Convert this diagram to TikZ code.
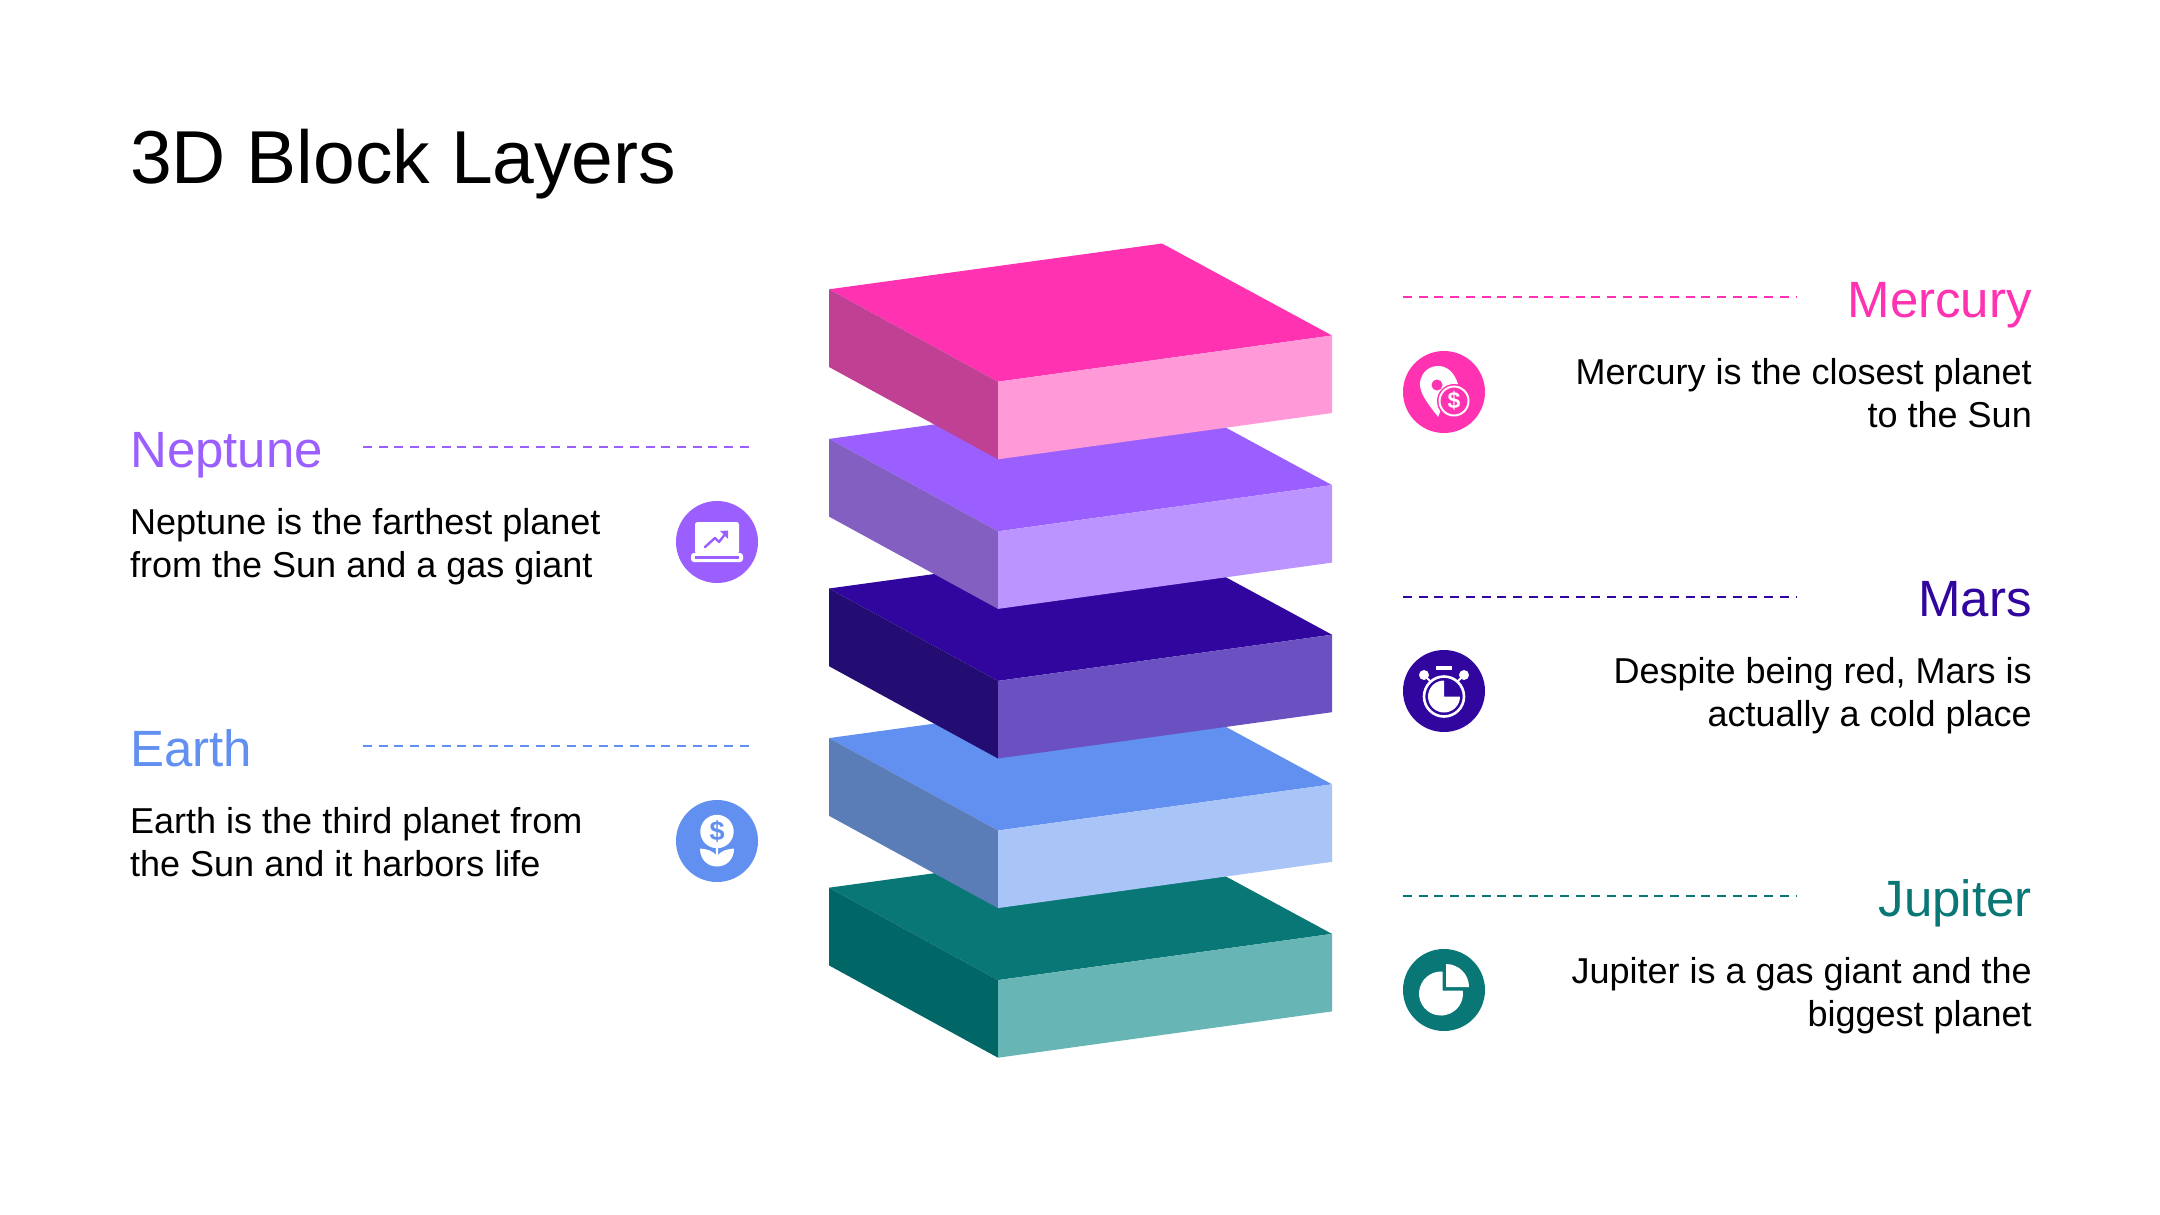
\documentclass[tikz,border=0pt]{standalone}
\usepackage{fontspec}
\setmainfont{Liberation Sans}
\definecolor{pinkT}{HTML}{FF33B1}
\definecolor{pinkL}{HTML}{C04094}
\definecolor{pinkR}{HTML}{FF99D8}
\definecolor{violT}{HTML}{9B5FFF}
\definecolor{violL}{HTML}{825FC0}
\definecolor{violR}{HTML}{BB94FF}
\definecolor{indT}{HTML}{30069E}
\definecolor{indL}{HTML}{230D73}
\definecolor{indR}{HTML}{6A50C0}
\definecolor{bluT}{HTML}{6190F0}
\definecolor{bluL}{HTML}{5A7DB8}
\definecolor{bluR}{HTML}{A9C5F7}
\definecolor{tealT}{HTML}{097775}
\definecolor{tealL}{HTML}{006766}
\definecolor{tealR}{HTML}{68B5B6}
\tikzset{
  x=1pt,y=-1pt,
  heading/.style={font=\fontsize{51}{51}\selectfont,inner sep=0pt},
  bodytext/.style={font=\fontsize{36}{42.6}\selectfont,inner sep=0pt},
  guide/.style={line width=2.6pt,dash pattern=on 9pt off 6.7pt},
  disc/.style={circle,minimum size=82pt,inner sep=0pt,fill=#1}
}
% One slab of the stack: the vertical offset is its distance from the topmost slab.
\newcommand{\slab}[4]{%
  \begin{scope}[yshift=-#1pt]
    \fill[#2] (829,289.3) -- (1162,243.5) -- (1332,335.5) -- (998,381.7) -- cycle;
    \fill[#3] (829,289.3) -- (998,381.7) -- (998,459.3) -- (829,367) -- cycle;
    \fill[#4] (998,381.7) -- (1332,335.5) -- (1332,413) -- (998,459.3) -- cycle;
  \end{scope}}
\begin{document}
\begin{tikzpicture}
\useasboundingbox (0,0) rectangle (2160,1215);
\fill[white] (0,0) rectangle (2160,1215);
\node[anchor=base west,inner sep=0pt,font=\fontsize{75}{75}\selectfont] (title) at (130,183) {3D Block Layers};

% stack, painted bottom to top
\slab{598.4}{tealT}{tealL}{tealR}
\slab{448.8}{bluT}{bluL}{bluR}
\slab{299.2}{indT}{indL}{indR}
\slab{149.6}{violT}{violL}{violR}
\slab{0}{pinkT}{pinkL}{pinkR}

% right column
\coordinate (m1) at (1403,297); \coordinate (m2) at (1796,297);
\draw[guide,pinkT] (m1) -- (m2);
\node[heading,anchor=base east,text=pinkT] (mercury) at (2032,317) {Mercury};
\node[bodytext,anchor=base east,align=right] (mercuryt) at (2032,427) {Mercury is the closest planet\\to the Sun};
\node[disc=pinkT] (mercuryi) at (1444,392) {};
\begin{scope}[shift={(mercuryi.center)}]
  \fill[white] (-6,-26) .. controls (-19,-26) and (-25,-14) .. (-24,-6) .. controls (-23,5) and (-10,19) .. (-6,25) -- (4,0) -- (14,-8) .. controls (10,-20) and (3,-26) .. (-6,-26) -- cycle;
  \fill[pinkT] (-7,-7) circle (5.5);
  \fill[pinkT] (10,9) circle (17);
  \draw[white,line width=2pt] (10,9) circle (14.5);
  \node[text=white,font=\bfseries\fontsize{23}{23}\selectfont,inner sep=0pt] (mercurys) at (10,9) {\$};
\end{scope}

\coordinate (r1) at (1403,597); \coordinate (r2) at (1796,597);
\draw[guide,indT] (r1) -- (r2);
\node[heading,anchor=base east,text=indT] (mars) at (2032,616) {Mars};
\node[bodytext,anchor=base east,align=right] (marst) at (2032,726) {Despite being red, Mars is\\actually a cold place};
\node[disc=indT] (marsi) at (1444,691) {};
\begin{scope}[shift={(marsi.center)}]
  \draw[white,line width=2.6pt] (0,5.5) circle (20);
  \fill[white] (0,5.5) -- (16,5.5) arc[start angle=0,end angle=270,radius=16] -- cycle;
  \fill[white] (-8,-25) rectangle (8,-21);
  \fill[white] (-20,-16) circle (5);
  \fill[white] (20,-16) circle (5);
  \draw[white,line width=2pt] (-17,-13) -- (-13,-9);
  \draw[white,line width=2pt] (17,-13) -- (13,-9);
\end{scope}

\coordinate (j1) at (1403,896); \coordinate (j2) at (1796,896);
\draw[guide,tealT] (j1) -- (j2);
\node[heading,anchor=base east,text=tealT] (jupiter) at (2032,916) {Jupiter};
\node[bodytext,anchor=base east,align=right] (jupitert) at (2032,1026) {Jupiter is a gas giant and the\\biggest planet};
\node[disc=tealT] (jupiteri) at (1444,990) {};
\begin{scope}[shift={(jupiteri.center)}]
  \fill[white] (-1.3,0.7) -- (-1.3,-18.4) arc[start angle=-85.6,end angle=-367.3,radius=22] -- cycle;
  \fill[white] (2,-26) arc[start angle=-90,end angle=0,radius=23] -- (2,-3) -- cycle;
\end{scope}

% left column
\coordinate (n1) at (363,447); \coordinate (n2) at (754,447);
\draw[guide,violT] (n1) -- (n2);
\node[heading,anchor=base west,text=violT] (neptune) at (130,467) {Neptune};
\node[bodytext,anchor=base west,align=left] (neptunet) at (130,577) {Neptune is the farthest planet\\from the Sun and a gas giant};
\node[disc=violT] (neptunei) at (717,542) {};
\begin{scope}[shift={(neptunei.center)}]
  \fill[white,rounded corners=2.5pt] (-22,-20) rectangle (22,12);
  \fill[white,rounded corners=3pt] (-26,11) rectangle (26,20);
  \fill[violT] (-22,13.5) rectangle (22,16.5);
  \draw[violT,line width=2.4pt,line cap=round,line join=round] (-12,5) -- (-2,-4) -- (2,0) -- (9,-9);
  \fill[violT] (3,-11) -- (11,-11.5) -- (11,-3) -- cycle;
\end{scope}

\coordinate (e1) at (363,746); \coordinate (e2) at (754,746);
\draw[guide,bluT] (e1) -- (e2);
\node[heading,anchor=base west,text=bluT] (earth) at (130,766) {Earth};
\node[bodytext,anchor=base west,align=left] (eartht) at (130,876) {Earth is the third planet from\\the Sun and it harbors life};
\node[disc=bluT] (earthi) at (717,841) {};
\begin{scope}[shift={(earthi.center)}]
  \fill[white] (0,-9.5) circle (16.7);
  \node[text=bluT,font=\bfseries\fontsize{27}{27}\selectfont,inner sep=0pt] (earths) at (0,-9.5) {\$};
  \fill[white] (-17,7.5) .. controls (-17,18) and (-10,25.5) .. (0,25.5)
    .. controls (10,25.5) and (17,18) .. (17,7.5)
    .. controls (10,8) and (4,10) .. (1.2,14) -- (1.2,5) -- (-1.2,5) -- (-1.2,14)
    .. controls (-4,10) and (-10,8) .. (-17,7.5) -- cycle;
\end{scope}
\end{tikzpicture}
\end{document}
